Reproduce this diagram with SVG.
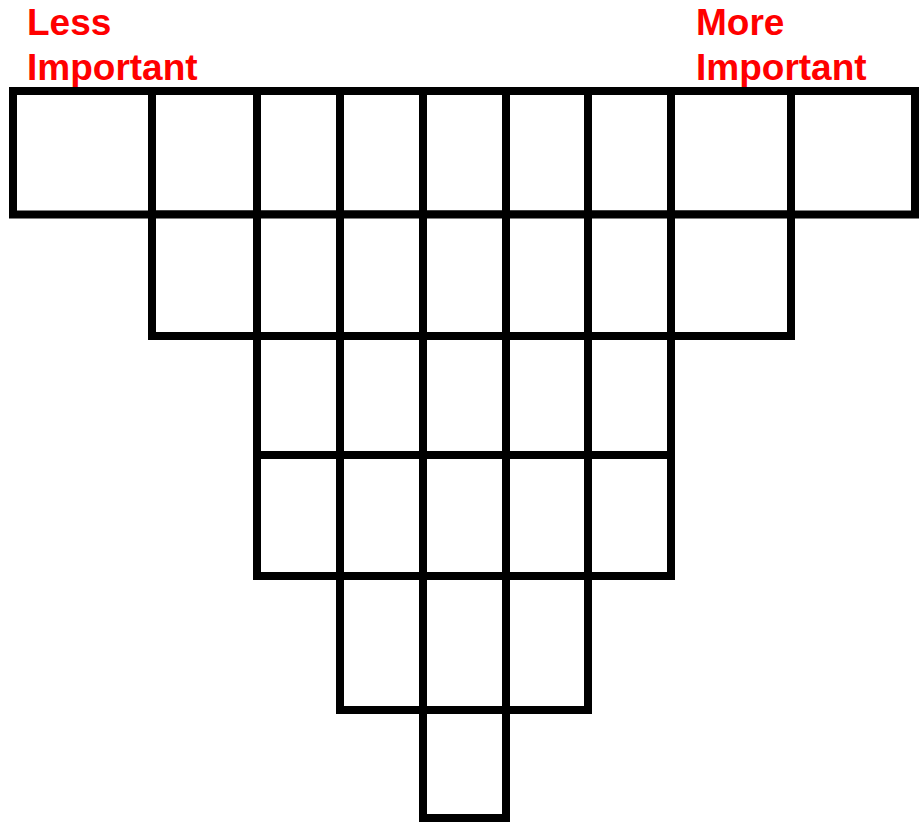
<svg xmlns="http://www.w3.org/2000/svg" width="919" height="822" viewBox="0 0 919 822">
<style>
.c{fill:#fff;stroke:#000;stroke-width:8}
.t{font-family:"Liberation Sans",Arial,sans-serif;font-weight:bold;font-size:37px;fill:#ff0000}
</style>
<rect width="919" height="822" fill="#fff"/>
<g id="labels">
<text class="t" x="27" y="35">Less</text>
<text class="t" x="27" y="80">Important</text>
<text class="t" x="696" y="35">More</text>
<text class="t" x="696" y="80">Important</text>
</g>
<g id="row1">
<rect id="r1c1" class="c" x="13" y="91" width="139" height="123.5"/>
<rect id="r1c2" class="c" x="152" y="91" width="105" height="123.5"/>
<rect id="r1c3" class="c" x="257" y="91" width="83" height="123.5"/>
<rect id="r1c4" class="c" x="340" y="91" width="83" height="123.5"/>
<rect id="r1c5" class="c" x="423" y="91" width="83" height="123.5"/>
<rect id="r1c6" class="c" x="506" y="91" width="82" height="123.5"/>
<rect id="r1c7" class="c" x="588" y="91" width="83" height="123.5"/>
<rect id="r1c8" class="c" x="671" y="91" width="120" height="123.5"/>
<rect id="r1c9" class="c" x="791" y="91" width="124" height="123.5"/>
</g>
<g id="row2">
<rect id="r2c2" class="c" x="152" y="214.5" width="105" height="121.5"/>
<rect id="r2c3" class="c" x="257" y="214.5" width="83" height="121.5"/>
<rect id="r2c4" class="c" x="340" y="214.5" width="83" height="121.5"/>
<rect id="r2c5" class="c" x="423" y="214.5" width="83" height="121.5"/>
<rect id="r2c6" class="c" x="506" y="214.5" width="82" height="121.5"/>
<rect id="r2c7" class="c" x="588" y="214.5" width="83" height="121.5"/>
<rect id="r2c8" class="c" x="671" y="214.5" width="120" height="121.5"/>
</g>
<g id="row3">
<rect id="r3c3" class="c" x="257" y="336" width="83" height="119"/>
<rect id="r3c4" class="c" x="340" y="336" width="83" height="119"/>
<rect id="r3c5" class="c" x="423" y="336" width="83" height="119"/>
<rect id="r3c6" class="c" x="506" y="336" width="82" height="119"/>
<rect id="r3c7" class="c" x="588" y="336" width="83" height="119"/>
</g>
<g id="row4">
<rect id="r4c3" class="c" x="257" y="455" width="83" height="121"/>
<rect id="r4c4" class="c" x="340" y="455" width="83" height="121"/>
<rect id="r4c5" class="c" x="423" y="455" width="83" height="121"/>
<rect id="r4c6" class="c" x="506" y="455" width="82" height="121"/>
<rect id="r4c7" class="c" x="588" y="455" width="83" height="121"/>
</g>
<g id="row5">
<rect id="r5c4" class="c" x="340" y="576" width="83" height="134"/>
<rect id="r5c5" class="c" x="423" y="576" width="83" height="134"/>
<rect id="r5c6" class="c" x="506" y="576" width="82" height="134"/>
</g>
<g id="row6">
<rect id="r6c5" class="c" x="423" y="710" width="83" height="108"/>
</g>
<g id="connectors"/>
</svg>
